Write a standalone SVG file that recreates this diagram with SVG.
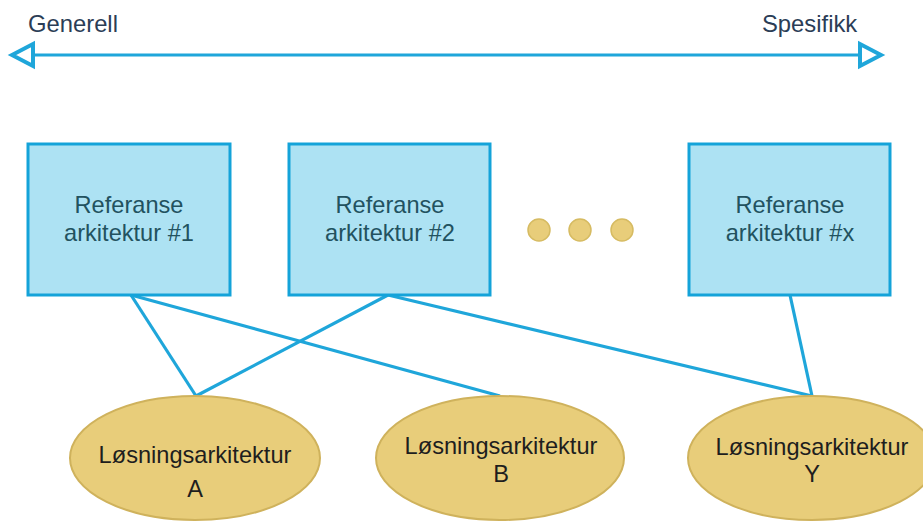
<svg xmlns="http://www.w3.org/2000/svg" width="923" height="522" viewBox="0 0 923 522">
<style>
.lbl{font-family:"Liberation Sans",Arial,sans-serif;font-size:23.8px;fill:#2b3d56}
.box{fill:#ade2f3;stroke:#14a3d9;stroke-width:3}
.btxt{font-family:"Liberation Sans",Arial,sans-serif;font-size:23.6px;fill:#22525f;text-anchor:middle}
.ell{fill:#e8cd7a;stroke:#cfb25c;stroke-width:2}
.etxt{font-family:"Liberation Sans",Arial,sans-serif;font-size:23.6px;fill:#1e1e1e;text-anchor:middle}
.dot{fill:#e8cd7a;stroke:#d6bb62;stroke-width:1.5}
.conn{stroke:#1fa6da;stroke-width:3.2;fill:none}
</style>
<rect width="923" height="522" fill="#ffffff"/>
<g id="axis">
<text class="lbl" x="28" y="32">Generell</text>
<text class="lbl" x="762" y="32">Spesifikk</text>
<line x1="14" y1="55" x2="879" y2="55" stroke="#1fa6da" stroke-width="3"/>
<polygon points="12,55 33,44 33,66" fill="#ffffff" stroke="#1fa6da" stroke-width="4" stroke-linejoin="miter"/>
<polygon points="881,55 860,44 860,66" fill="#ffffff" stroke="#1fa6da" stroke-width="4" stroke-linejoin="miter"/>
</g>
<g id="connectors">
<line class="conn" x1="131" y1="295" x2="196" y2="396"/>
<line class="conn" x1="131" y1="295" x2="500" y2="396"/>
<line class="conn" x1="388" y1="295" x2="196" y2="396"/>
<line class="conn" x1="388" y1="295" x2="812" y2="396"/>
<line class="conn" x1="790" y1="295" x2="812" y2="396"/>
</g>
<g id="ref1">
<rect class="box" x="28" y="144" width="202" height="151"/>
<text class="btxt" x="129" y="213">Referanse</text>
<text class="btxt" x="129" y="241">arkitektur #1</text>
</g>
<g id="ref2">
<rect class="box" x="289" y="144" width="201" height="151"/>
<text class="btxt" x="390" y="213">Referanse</text>
<text class="btxt" x="390" y="241">arkitektur #2</text>
</g>
<g id="dots">
<circle class="dot" cx="539" cy="230" r="11"/>
<circle class="dot" cx="580" cy="230" r="11"/>
<circle class="dot" cx="622" cy="230" r="11"/>
</g>
<g id="refx">
<rect class="box" x="689" y="144" width="201" height="151"/>
<text class="btxt" x="790" y="213">Referanse</text>
<text class="btxt" x="790" y="241">arkitektur #x</text>
</g>
<g id="solA">
<ellipse class="ell" cx="195" cy="458" rx="125" ry="62"/>
<text class="etxt" x="195" y="463">Løsningsarkitektur</text>
<text class="etxt" x="195" y="497">A</text>
</g>
<g id="solB">
<ellipse class="ell" cx="500" cy="458" rx="124" ry="62"/>
<text class="etxt" x="501" y="454">Løsningsarkitektur</text>
<text class="etxt" x="501" y="482">B</text>
</g>
<g id="solY">
<ellipse class="ell" cx="812" cy="458" rx="124" ry="62"/>
<text class="etxt" x="812" y="455">Løsningsarkitektur</text>
<text class="etxt" x="812" y="482">Y</text>
</g>
</svg>
